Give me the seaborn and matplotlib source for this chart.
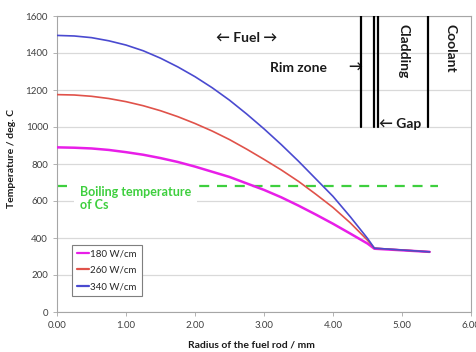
import numpy as np
import pandas as pd
import matplotlib
matplotlib.use("Agg")
from matplotlib import pyplot as plt
import seaborn as sns

# radius of the fuel rod (mm) and temperatures (deg. C)
radius = [0.0, 0.25, 0.5, 0.75, 1.0, 1.25, 1.5, 1.75, 2.0, 2.25, 2.5, 2.75,
          3.0, 3.25, 3.5, 3.75, 4.0, 4.25, 4.5, 4.6, 5.4]
temp_180 = [890, 888, 884, 876, 864, 850, 832, 811, 786, 758, 730, 695,
            660, 620, 575, 527, 477, 424, 370, 342, 325]
temp_260 = [1175, 1173, 1166, 1154, 1137, 1115, 1088, 1056, 1019, 978, 932, 880,
            825, 768, 706, 637, 565, 482, 388, 345, 325]
temp_340 = [1495, 1492, 1483, 1466, 1443, 1412, 1372, 1325, 1272, 1212, 1145, 1070,
            990, 905, 815, 720, 625, 515, 398, 345, 325]
series_names = ["180 W/cm", "260 W/cm", "340 W/cm"]

boiling_cs = 680
boiling_end = 5.52
boundaries = [4.41, 4.59, 4.65, 5.38]
boundary_bottom = 1000

colors = ["#e81ee8", "#e0524a", "#4a4ad0"]

frames = []
for name, vals in zip(series_names, [temp_180, temp_260, temp_340]):
    frames.append(pd.DataFrame({"r": radius, "T": vals, "Power": name}))
data = pd.concat(frames, ignore_index=True)

sns.set_style("white")
plt.rcParams['font.family'] = ['Lato', 'DejaVu Sans']

fig = plt.figure(figsize=(4.76, 3.52), dpi=100)
ax = fig.add_axes([57 / 476, 1 - 312 / 352, 414 / 476, 296 / 352])

ax.set_xlim(0, 6)
ax.set_ylim(0, 1600)
ax.set_yticks(np.arange(0, 1601, 200))
ax.set_xticks(np.arange(0, 6.01, 1))
ax.set_xticklabels([f"{v:.2f}" for v in np.arange(0, 6.01, 1)])
ax.yaxis.grid(True, color="#d9d9d9", linewidth=0.9)
ax.set_axisbelow(True)
for s in ax.spines.values():
    s.set_color("#a6a6a6")
    s.set_linewidth(0.8)
ax.tick_params(axis="both", labelsize=7, labelcolor="#404040", length=3,
               direction="out", width=0.6, left=True, bottom=True, color="#a6a6a6")

# boiling temperature of Cs
ax.plot([0, boiling_end], [boiling_cs, boiling_cs], color="#3ecf3e",
        linestyle=(0, (4.5, 3.5)), linewidth=1.6, zorder=2)
ax.text(0.33, 614, "Boiling temperature\nof Cs", color="#3ecf3e",
        fontsize=9, fontweight="bold", va="center", ha="left", linespacing=1.1,
        bbox=dict(facecolor="white", edgecolor="none", pad=4), zorder=3)

sns.lineplot(data=data, x="r", y="T", hue="Power", palette=colors,
             linewidth=1.2, ax=ax, zorder=4)
ax.get_lines()[1].set_linewidth(1.8)

# region boundaries
for b in boundaries:
    ax.plot([b, b], [boundary_bottom, 1600], color="black", linewidth=1.6, zorder=5)

txt = dict(fontsize=10, fontweight="bold", color="#1a1a1a", va="center")
ax.text(2.75, 1481, "\u2190 Fuel \u2192", ha="center", **txt)
ax.text(3.91, 1320, "Rim zone", ha="right", **txt)
ax.text(4.32, 1320, "\u2192", ha="center", **txt)
ax.text(4.66, 1016, "\u2190 Gap", ha="left", **txt)
ax.text(5.02, 1411, "Cladding", rotation=-90, ha="center", **txt)
ax.text(5.71, 1424, "Coolant", rotation=-90, ha="center", **txt)

ax.set_xlabel("Radius of the fuel rod / mm", fontsize=7.5, fontweight="bold",
              color="#1a1a1a")
ax.set_ylabel("Temperature / deg. C", fontsize=7.5, fontweight="bold",
              color="#1a1a1a")
ax.xaxis.set_label_coords(0.469, -0.095)
ax.yaxis.set_label_coords(-0.098, 0.52)

leg = ax.legend(loc="lower left", bbox_to_anchor=(0.036, 0.054), fontsize=7,
                handlelength=1.3, handletextpad=0.1, borderpad=0.5,
                labelspacing=0.75, fancybox=False, framealpha=1, borderaxespad=0)
leg.get_frame().set_edgecolor("#7f7f7f")
leg.get_frame().set_linewidth(0.8)
for h, c in zip(leg.get_lines(), colors):
    h.set_linewidth(1.6)
    h.set_color(c)

fig.savefig("out.png", dpi=100)
